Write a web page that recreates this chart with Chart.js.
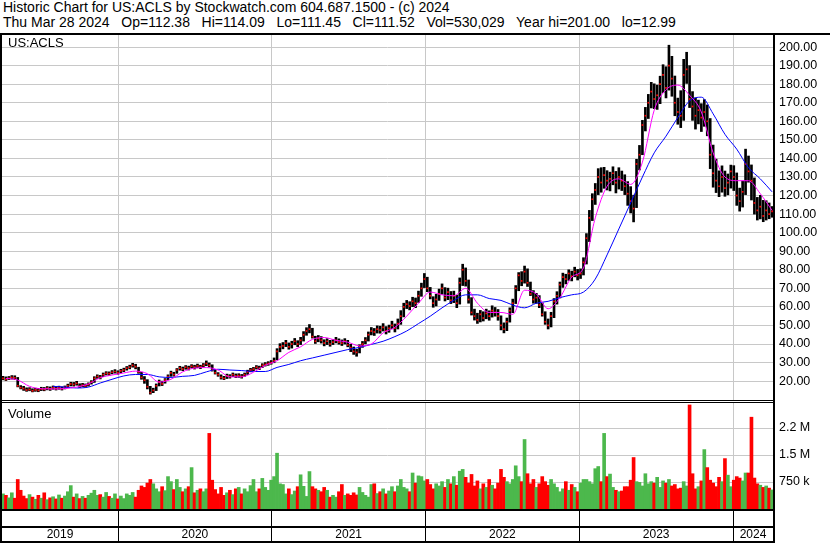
<!DOCTYPE html>
<html>
<head>
<meta charset="utf-8">
<title>US:ACLS</title>
<script src="https://cdn.jsdelivr.net/npm/chart.js@4.4.1/dist/chart.umd.min.js"></script>
<style>
  body { margin: 0; background: #fff; }
  #wrap { position: relative; width: 830px; height: 543px; font-family: 'Liberation Sans', Arial, sans-serif; color: #000; }
  .hdr { position: absolute; left: 3px; font-size: 14px; line-height: 15px; white-space: pre; }
  .lbl { position: absolute; left: 8px; font-size: 13px; line-height: 15px; }
  #chart { position: absolute; left: 0; top: 33px; }
</style>
</head>
<body>
<div id="wrap">
  <div class="hdr" style="top:0px">Historic Chart for US:ACLS by Stockwatch.com 604.687.1500 - (c) 2024</div>
  <div class="hdr" style="top:15px">Thu Mar 28 2024   Op=112.38   Hi=114.09   Lo=111.45   Cl=111.52   Vol=530,029   Year hi=201.00   lo=12.99</div>
  <canvas id="chart" width="830" height="510"></canvas>
  <div class="lbl" style="top:35px">US:ACLS</div>
  <div class="lbl" style="top:406px">Volume</div>
</div>
<script>
// weekly bars, first week early April 2019, last week ends Mar 28 2024
var firstWeek = 2019.252;
var weekStep = 7 / 365.25;

var weekClose = [
  21.5, 21, 21.5, 22, 21.8, 17.5, 16.5, 16, 15.2, 15.5,
  14.8, 15.3, 15, 15.8, 15.5, 16.2, 15.8, 16.5, 16, 16.4,
  15.9, 16.6, 17.5, 18.5, 18.2, 18.8, 17.2, 17.8, 17.5, 18.2,
  19.5, 21.5, 22.5, 22, 23.5, 24.2, 24, 24.8, 25.2, 24.6,
  25.5, 26, 27, 27.5, 28.5, 27.8, 25, 22, 20.5, 17,
  13.8, 15, 17.5, 19.5, 18.5, 20.5, 22.5, 24.5, 23.5, 26,
  27, 26.5, 27.5, 27, 28, 27.5, 28.2, 27.6, 28.5, 29.5,
  28.5, 26, 24.5, 23.5, 22, 21.5, 22.8, 22.5, 23.5, 22.8,
  23, 22.5, 23.5, 25, 26, 26.5, 27.5, 27, 28.5, 29,
  29.5, 30, 31, 36, 38.5, 39, 40.5, 38.5, 40, 41.5,
  40, 42, 45, 47, 48, 44, 41.5, 43, 42, 40.5,
  41.5, 40, 41, 42, 41, 40.5, 41.5, 39.5, 38, 36,
  35.5, 38.5, 40, 42, 45, 47, 46.5, 48, 47.5, 49,
  47, 48.5, 50, 48.5, 51, 55, 60, 61.5, 60.5, 63,
  62, 66, 70, 75, 70, 66, 62, 64, 67, 70,
  65, 68, 63.5, 66, 62, 73, 80, 74, 64, 57,
  55, 53, 56, 54, 56.5, 55, 58, 57, 55, 50,
  48, 52, 58, 62, 70, 77, 74, 79, 73, 67,
  64, 65, 61, 56, 52, 50, 55, 63, 66, 72,
  76, 75, 78, 76.5, 79, 77, 78, 84, 97, 108,
  118, 123, 130, 127, 131, 128, 129, 132, 127, 130,
  128, 125, 121, 117, 113, 137, 142, 158, 163, 170,
  176, 172, 174, 180, 185, 178, 190, 183, 170, 165,
  163, 185, 188, 172, 168, 163, 166, 162, 165, 160,
  142, 132, 128, 125, 130, 124, 127, 133, 130, 120,
  117, 122, 137, 133, 128, 116, 112, 114, 109, 112,
  110, 111.52
];

var weekHigh = [
  22.6, 22.3, 22.5, 23, 22.9, 22, 17.6, 17.2, 16.4, 16.5,
  15.9, 16.2, 16.1, 16.7, 16.6, 17.1, 16.9, 17.4, 17.1, 17.3,
  16.9, 17.4, 18.4, 19.4, 19.3, 19.9, 18.6, 18.8, 18.5, 19.1,
  20.3, 22.4, 23.4, 23.1, 24.4, 25.1, 25, 25.7, 26.2, 25.6,
  26.4, 27, 27.9, 28.6, 29.6, 29.1, 27.5, 24.8, 22.5, 20.8,
  17.2, 16.2, 18.5, 20.6, 20, 21.4, 23.4, 25.4, 24.8, 26.8,
  28, 27.6, 28.4, 28.1, 28.9, 28.6, 29.2, 28.6, 29.5, 30.9,
  29.8, 28.8, 26.2, 24.6, 23.4, 22.6, 23.8, 23.5, 24.4, 23.9,
  24, 23.6, 24.4, 25.9, 26.9, 27.4, 28.4, 28.1, 29.4, 30,
  30.5, 31.1, 32.5, 37.5, 40.2, 40.8, 42, 40.6, 41.5, 43,
  41.8, 43.6, 46.7, 48.8, 50.5, 48.5, 44.2, 44.6, 44, 42.3,
  42.9, 42, 42.5, 43.6, 42.8, 42.2, 42.9, 42, 39.9, 38.4,
  37.2, 39.6, 41.4, 43.5, 46.5, 48.9, 48.4, 49.8, 49.6, 51,
  49.4, 50.2, 52.3, 50.8, 53.5, 58, 62, 63.5, 62.8, 65.2,
  64.8, 68.5, 72.8, 78, 76, 70.5, 65.5, 66.8, 69.6, 72.4,
  70.4, 70.1, 68.3, 68.5, 66.3, 75.6, 83, 81, 74.5, 65,
  58.8, 56.6, 58.1, 57.4, 58.8, 57.9, 60.6, 59.7, 58.6, 55.2,
  51.4, 54, 59.5, 64.2, 71.5, 78.5, 79, 82, 80.5, 73.4,
  68.8, 67.3, 66.1, 62.1, 57.4, 53.5, 57.1, 64.5, 68.2, 73.4,
  78.2, 77.6, 80, 79.3, 81.4, 80.2, 80.5, 86.5, 99.5, 112,
  121, 126.5, 134.5, 135, 135.2, 133.4, 132.6, 135.5, 133, 135,
  133.2, 131.2, 127.5, 124.8, 120.2, 139.5, 147, 160.5, 167.5, 174.5,
  181, 180.2, 179.5, 184.3, 190.5, 189.4, 201, 195, 184.4, 172.5,
  176.5, 193.4, 197.2, 190, 176, 172.6, 171.4, 169.5, 171.7, 168.8,
  161.5, 147.2, 139.6, 133.3, 136, 133.2, 131.6, 136.4, 136.1, 132.2,
  124, 127.8, 145, 141.3, 136.5, 129.5, 119, 120.1, 117.4, 117.2,
  116, 114.09
];

var weekLow = [
  20.7, 20.3, 20.8, 21.1, 20.9, 16.9, 15.8, 15, 14.5, 14.8,
  14.2, 14.5, 14.3, 14.9, 14.8, 15.3, 15, 15.6, 15.2, 15.6,
  15.2, 15.8, 16.5, 17.4, 17.3, 17.8, 16.6, 16.9, 16.7, 17.3,
  18.4, 19.3, 21.5, 21.2, 22.4, 23.3, 23.1, 23.9, 24.3, 23.7,
  24.5, 25.1, 25.9, 26.6, 27.5, 26.6, 24.2, 21, 18.8, 15.8,
  12.99, 13.8, 14.9, 17.4, 17.6, 18.9, 20.8, 22.6, 22.7, 24.2,
  25.9, 25.6, 26.4, 26, 27, 26.5, 27.2, 26.7, 27.5, 28.3,
  27.6, 25.4, 23.8, 22.6, 21.1, 20.8, 21.4, 21.6, 22.4, 21.9,
  22, 21.6, 22.6, 23.6, 25, 25.6, 26.5, 26.2, 27.3, 28.1,
  28.5, 29.1, 29.9, 31.5, 35.8, 37.4, 38.6, 37.2, 37.8, 39.6,
  38.6, 39.7, 41.6, 44.7, 46, 43.2, 40.3, 41.2, 40.5, 39,
  39.7, 38.8, 39.7, 40.6, 39.9, 39.2, 40, 38.5, 35.9, 34.4,
  33.4, 35.2, 38.2, 40.1, 41.6, 44.9, 44.6, 45.9, 45.8, 47,
  45.4, 46.3, 48.2, 46.5, 48.1, 50.6, 54.6, 59.1, 58.4, 60.1,
  59.6, 62.4, 65.7, 70.4, 68.2, 64.3, 59.8, 60.5, 63.5, 66.8,
  63.2, 63.9, 61.8, 62.3, 59.6, 61.5, 71.5, 71.2, 62, 55.6,
  52.9, 51.1, 51.9, 52.4, 53.6, 52.8, 54.5, 55, 52.8, 47.6,
  46, 47.2, 51.8, 56.9, 61.8, 68.7, 71.4, 72.8, 71, 66.1,
  62, 61.9, 59.6, 55, 50.6, 48.1, 49.2, 54.2, 61.5, 64.8,
  70.5, 72.4, 74.3, 74, 76.2, 74.5, 75.3, 77.2, 83.1, 95.2,
  106.5, 115.2, 120.5, 121.8, 123.9, 123, 122.5, 125.8, 121.4, 123.5,
  122.7, 120.5, 114.7, 110.6, 105.8, 113.5, 133.8, 142, 154.8, 161.5,
  167.2, 166.8, 166.4, 169.5, 175.5, 172.6, 176.8, 173.5, 163, 158.4,
  156.6, 160.5, 180.4, 167.4, 160.5, 155.8, 158.6, 154.5, 157.3, 152.2,
  134.5, 124.5, 121.6, 119.4, 121.8, 119.6, 120.4, 124, 122.7, 114.7,
  111.6, 113.8, 120.5, 127.2, 117.6, 110, 106.8, 107.4, 105.9, 106.8,
  107.5, 108.3
];

// weekly volume in thousands of shares
var weekVolume = [
  420, 380, 310, 450, 300, 820, 520, 360, 290, 400,
  330, 270, 380, 300, 450, 260, 310, 340, 280, 390,
  300, 360, 480, 650, 330, 420, 290, 350, 300, 380,
  440, 520, 380, 400, 330, 460, 350, 300, 420, 280,
  360, 290, 420, 380, 460, 330, 520, 640, 600, 720,
  820, 700, 560, 480, 620, 510, 900, 760, 540, 820,
  600, 480, 560, 620, 1150, 450, 520, 560, 480, 560,
  2100, 800, 540, 420, 600, 380, 450, 520, 400, 560,
  600, 420, 560, 480, 650, 820, 480, 560, 850, 600,
  520, 800, 900, 1550, 700, 680, 420, 560, 400, 500,
  620, 950, 630, 350, 1040, 620, 560, 520, 480, 600,
  520, 330, 380, 330, 480, 680, 380, 420, 380, 450,
  390, 600, 460, 380, 330, 680, 700, 430, 480, 560,
  420, 500, 620, 480, 640, 820, 600, 560, 480, 1000,
  720, 920, 900, 780, 820, 680, 560, 700, 640, 760,
  600, 820, 700, 900, 660, 1050, 1100, 880, 720, 960,
  640, 780, 560, 700, 600, 820, 660, 560, 720, 1100,
  880, 760, 700, 820, 1200, 900, 760, 1930, 980, 700,
  820, 600, 700, 900, 760, 660, 820, 700, 600, 480,
  560, 760, 520, 680, 600, 480, 720, 820, 820, 760,
  700, 1120, 1180, 760, 2100, 900, 970, 600, 520, 480,
  500, 620, 620, 800, 1430, 760, 740, 640, 980, 700,
  760, 720, 880, 600, 780, 720, 820, 640, 680, 560,
  580, 760, 640, 2890, 980, 560, 620, 780, 1650, 1150,
  800, 720, 620, 880, 760, 1400, 940, 620, 800, 900,
  860, 780, 1000, 1000, 2550, 860, 700, 660, 600, 640,
  580, 530
];

// moving averages, one value every 4 weeks
var maStep = 4;
var shortMaStart = 1;   // magenta
var shortMa = [
  21.5, 20.6, 17.2, 15.9, 15.8, 16, 16.8, 18.5, 21.8, 23.3,
  24.4, 25.4, 24, 19.5, 21, 25, 27, 27.3, 26, 22.3,
  22.3, 24.8, 28.5, 31, 35.5, 38.5, 42.5, 43.5, 42, 41,
  39, 40, 46, 49, 55, 62, 68, 66.5, 66, 70,
  62, 57, 57, 56, 69, 67, 59, 65, 76, 81,
  108, 125, 129, 126, 138, 166, 177, 179.5, 174, 165,
  143, 130, 128, 128, 121, 112
];
var longMaStart = 17;   // blue
var longMa = [
  17.2, 16.8, 16.3, 16.8, 19, 21, 22.8, 23.6, 23.6, 22.3,
  22, 22.6, 23.1, 25, 26.4, 26, 25.7, 25.2, 25.2, 27.4,
  29, 31, 32.5, 34, 35.5, 37, 38.2, 39.8, 41.5, 44,
  47, 51, 55, 59.5, 63.5, 66.5, 66.5, 64.5, 63.5, 61,
  59.5, 62, 63, 65, 66.5, 68, 75, 88, 102, 116,
  130, 143, 152, 162, 171, 173, 164, 153, 145, 135,
  129, 122
];

var priceTicks = [20, 30, 40, 50, 60, 70, 80, 90, 100, 110, 120, 130, 140, 150, 160, 170, 180, 190, 200];
var volTicks = [750000, 1500000, 2250000];
var volTickLabels = ['750 k', '1.5 M', '2.2 M'];
var yearMarks = [2020, 2021, 2022, 2023, 2024];
var yearLabels = ['2019', '2020', '2021', '2022', '2023', '2024'];

var FONT = "'Liberation Sans', Arial, sans-serif";

function weekX(i) { return firstWeek + i * weekStep; }

var priceBars = [], closeDots = [], volBars = [], volColors = [];
weekClose.forEach(function (c, i) {
  priceBars.push({ x: weekX(i), y: [weekLow[i], weekHigh[i]] });
  closeDots.push({ x: weekX(i), y: c });
  volBars.push({ x: weekX(i), y: weekVolume[i] * 1000 });
  var prev = i > 0 ? weekClose[i - 1] : c - 1;
  volColors.push(c > prev ? '#4cb84c' : (c < prev ? '#ff0000' : '#a0a0a0'));
});
var shortMaPts = shortMa.map(function (v, i) { return { x: weekX(shortMaStart + i * maStep), y: v }; });
var longMaPts = longMa.map(function (v, i) { return { x: weekX(longMaStart + i * maStep), y: v }; });

// the right-hand axes must not push the plot down for their label overhang
function fixRightAxis(s) {
  s.width = 57;
  s.paddingTop = 0;
  s.paddingBottom = 0;
}

// black frame, double line between panes, and the year row
var framePlugin = {
  id: 'frame',
  afterDraw: function (chart) {
    var ctx = chart.ctx, a = chart.chartArea, xs = chart.scales.x, yv = chart.scales.yv;
    var W = chart.width, H = chart.height;
    ctx.save();
    ctx.fillStyle = '#000';
    ctx.fillRect(0, 0, W, 2);
    ctx.fillRect(0, 0, 2, H);
    ctx.fillRect(a.right, 0, 2, H);
    ctx.fillRect(0, H - 2, a.right, 2);
    ctx.fillStyle = '#fff';
    ctx.fillRect(2, yv.top, a.right - 2, 1);
    ctx.fillStyle = '#000';
    ctx.fillRect(0, yv.top - 1, a.right, 1);
    ctx.fillRect(0, yv.top + 1, a.right, 1);
    ctx.fillRect(0, a.bottom, a.right, 2);
    ctx.fillRect(0, a.bottom + 17, a.right, 2);

    ctx.font = '12px ' + FONT;
    ctx.textAlign = 'center';
    ctx.textBaseline = 'middle';
    yearLabels.forEach(function (lab) {
      var y0 = Math.max(+lab, xs.min), y1 = Math.min(+lab + 1, xs.max);
      var px = (xs.getPixelForValue(y0) + xs.getPixelForValue(y1)) / 2;
      ctx.fillText(lab, px, a.bottom + 26);
    });
    ctx.restore();
  }
};

var chart = new Chart(document.getElementById('chart').getContext('2d'), {
  type: 'bar',
  data: {
    datasets: [
      { type: 'line', data: shortMaPts, yAxisID: 'y', borderColor: '#ff00ff', borderWidth: 1,
        pointRadius: 0, cubicInterpolationMode: 'monotone', order: 1 },
      { type: 'line', data: longMaPts, yAxisID: 'y', borderColor: '#0000ff', borderWidth: 1,
        pointRadius: 0, cubicInterpolationMode: 'monotone', order: 2 },
      { type: 'line', data: closeDots, yAxisID: 'y', showLine: false, pointStyle: 'rect',
        pointRadius: 1.2, pointBackgroundColor: '#ff0000', pointBorderWidth: 0, order: 3 },
      { type: 'bar', data: priceBars, yAxisID: 'y', backgroundColor: '#000', barThickness: 2,
        grouped: false, order: 4 },
      { type: 'bar', data: volBars, yAxisID: 'yv', backgroundColor: volColors, barThickness: 3,
        grouped: false, order: 5 }
    ]
  },
  options: {
    responsive: false,
    animation: false,
    events: [],
    layout: { autoPadding: false, padding: { left: 2, top: 2, right: 0, bottom: 0 } },
    plugins: { legend: { display: false }, tooltip: { enabled: false } },
    scales: {
      x: {
        type: 'linear', min: 2019.2455, max: 2024.26, offset: false,
        grid: { color: '#c8c8c8', tickColor: '#000', tickLength: 34, offset: false },
        border: { display: false },
        ticks: { display: false, autoSkip: false },
        afterBuildTicks: function (s) { s.ticks = yearMarks.map(function (v) { return { value: v }; }); },
        afterFit: function (s) { s.height = 34; s.paddingLeft = 0; s.paddingRight = 0; }
      },
      y: {
        type: 'linear', position: 'right', stack: 'panes', stackWeight: 366,
        min: 9.3, max: 206.5,
        grid: { color: '#c8c8c8', drawTicks: false },
        border: { display: false },
        ticks: { padding: 6, autoSkip: false, color: '#000', font: { family: FONT, size: 12.5 },
                 callback: function (v) { return v.toFixed(2); } },
        afterBuildTicks: function (s) { s.ticks = priceTicks.map(function (v) { return { value: v }; }); },
        afterFit: fixRightAxis
      },
      yv: {
        type: 'linear', position: 'right', stack: 'panes', stackWeight: 108,
        min: 0, max: 3000000,
        grid: { color: '#c8c8c8', drawTicks: false },
        border: { display: false },
        ticks: { padding: 6, autoSkip: false, color: '#000', font: { family: FONT, size: 12.5 },
                 callback: function (v) { return volTickLabels[volTicks.indexOf(v)]; } },
        afterBuildTicks: function (s) { s.ticks = volTicks.map(function (v) { return { value: v }; }); },
        afterFit: fixRightAxis
      }
    }
  },
  plugins: [framePlugin]
});
</script>
</body>
</html>
